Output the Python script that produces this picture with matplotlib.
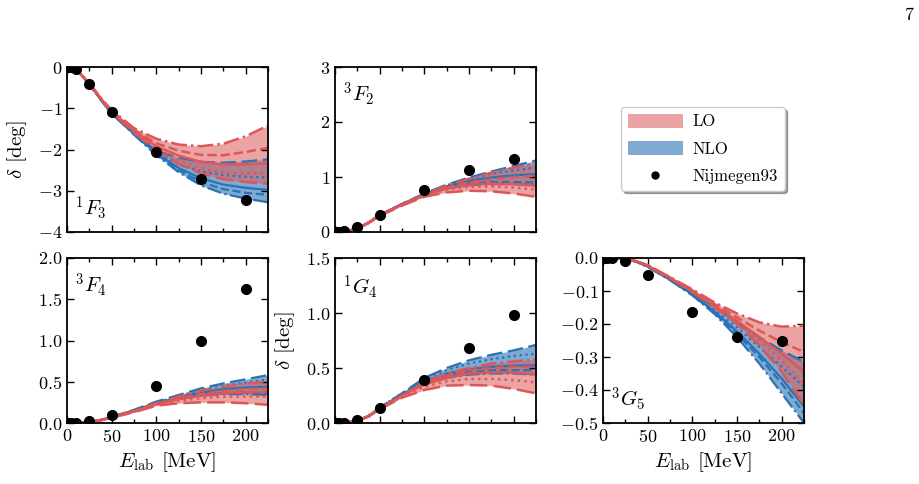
import matplotlib
matplotlib.use("Agg")
import matplotlib.pyplot as plt
from matplotlib.patches import Patch
from matplotlib.lines import Line2D
import matplotlib.ticker as mticker
import numpy as np

plt.rcParams['font.family'] = 'serif'
plt.rcParams['font.serif'] = ['cmr10']
plt.rcParams['mathtext.fontset'] = 'cm'
plt.rcParams['axes.formatter.use_mathtext'] = True

# ---------------- data ----------------
E = [0, 10, 25, 37.5, 50, 75, 100, 125, 150, 175, 200, 225]
E_nij = [1, 5, 10, 25, 50, 100, 150, 200]

# 1F3
F3_1_LO = [
    [0, -0.05, -0.39, -0.74, -1.05, -1.48, -1.74, -1.88, -1.92, -1.86, -1.68, -1.42],
    [0, -0.05, -0.40, -0.75, -1.07, -1.52, -1.85, -2.03, -2.13, -2.14, -2.06, -1.96],
    [0, -0.05, -0.40, -0.76, -1.08, -1.55, -1.92, -2.15, -2.30, -2.36, -2.36, -2.34],
    [0, -0.05, -0.40, -0.76, -1.09, -1.57, -1.97, -2.26, -2.46, -2.56, -2.58, -2.57],
    [0, -0.05, -0.41, -0.77, -1.10, -1.59, -2.02, -2.35, -2.58, -2.72, -2.79, -2.83],
]
F3_1_NLO = [
    [0, -0.05, -0.41, -0.78, -1.11, -1.60, -2.03, -2.20, -2.30, -2.32, -2.29, -2.24],
    [0, -0.05, -0.41, -0.78, -1.11, -1.61, -2.06, -2.36, -2.53, -2.62, -2.66, -2.68],
    [0, -0.05, -0.41, -0.78, -1.12, -1.62, -2.09, -2.45, -2.70, -2.85, -2.93, -2.98],
    [0, -0.05, -0.41, -0.78, -1.12, -1.63, -2.11, -2.50, -2.79, -2.96, -3.05, -3.10],
    [0, -0.05, -0.42, -0.79, -1.13, -1.64, -2.14, -2.55, -2.87, -3.07, -3.19, -3.28],
]
F3_1_NIJ = [0.0, -0.01, -0.04, -0.42, -1.09, -2.07, -2.71, -3.23]

# 3F2
F2_3_LO = [
    [0, 0.005, 0.06, 0.17, 0.30, 0.50, 0.68, 0.84, 0.97, 1.08, 1.17, 1.25],
    [0, 0.005, 0.06, 0.17, 0.30, 0.50, 0.68, 0.81, 0.90, 0.96, 1.00, 1.02],
    [0, 0.005, 0.06, 0.17, 0.30, 0.50, 0.67, 0.79, 0.86, 0.88, 0.87, 0.84],
    [0, 0.005, 0.06, 0.17, 0.30, 0.49, 0.66, 0.77, 0.82, 0.83, 0.81, 0.77],
    [0, 0.005, 0.06, 0.16, 0.29, 0.48, 0.64, 0.72, 0.75, 0.74, 0.70, 0.64],
]
F2_3_NLO = [
    [0, 0.005, 0.06, 0.17, 0.31, 0.51, 0.70, 0.86, 0.99, 1.10, 1.20, 1.30],
    [0, 0.005, 0.06, 0.17, 0.31, 0.51, 0.70, 0.85, 0.97, 1.06, 1.12, 1.17],
    [0, 0.005, 0.06, 0.17, 0.31, 0.51, 0.69, 0.83, 0.93, 0.99, 1.03, 1.05],
    [0, 0.005, 0.06, 0.17, 0.30, 0.50, 0.68, 0.81, 0.88, 0.91, 0.91, 0.90],
    [0, 0.005, 0.06, 0.17, 0.30, 0.50, 0.67, 0.79, 0.85, 0.87, 0.87, 0.85],
]
F2_3_NIJ = [0.0, 0.0, 0.01, 0.09, 0.30, 0.77, 1.13, 1.33]

# 3F4
F4_3_LO = [
    [0, 0.0, 0.01, 0.035, 0.07, 0.15, 0.24, 0.32, 0.39, 0.44, 0.48, 0.50],
    [0, 0.0, 0.01, 0.035, 0.07, 0.14, 0.23, 0.30, 0.35, 0.39, 0.41, 0.42],
    [0, 0.0, 0.01, 0.035, 0.07, 0.14, 0.23, 0.29, 0.33, 0.36, 0.37, 0.38],
    [0, 0.0, 0.01, 0.035, 0.07, 0.14, 0.22, 0.27, 0.30, 0.32, 0.32, 0.32],
    [0, 0.0, 0.01, 0.03, 0.065, 0.13, 0.21, 0.24, 0.25, 0.25, 0.24, 0.22],
]
F4_3_NLO = [
    [0, 0.0, 0.01, 0.035, 0.075, 0.16, 0.26, 0.34, 0.42, 0.48, 0.53, 0.58],
    [0, 0.0, 0.01, 0.035, 0.075, 0.155, 0.25, 0.33, 0.40, 0.45, 0.49, 0.53],
    [0, 0.0, 0.01, 0.035, 0.07, 0.15, 0.24, 0.31, 0.37, 0.41, 0.43, 0.44],
    [0, 0.0, 0.01, 0.035, 0.07, 0.15, 0.24, 0.30, 0.34, 0.36, 0.37, 0.36],
    [0, 0.0, 0.01, 0.035, 0.07, 0.15, 0.24, 0.29, 0.33, 0.35, 0.35, 0.34],
]
F4_3_NIJ = [0.0, 0.0, 0.0, 0.02, 0.10, 0.45, 0.99, 1.63]

# 1G4
G4_1_LO = [
    [0, 0.0, 0.02, 0.06, 0.13, 0.25, 0.37, 0.45, 0.50, 0.54, 0.56, 0.58],
    [0, 0.0, 0.02, 0.06, 0.13, 0.25, 0.36, 0.43, 0.48, 0.50, 0.51, 0.51],
    [0, 0.0, 0.02, 0.06, 0.13, 0.25, 0.35, 0.41, 0.45, 0.46, 0.46, 0.44],
    [0, 0.0, 0.02, 0.06, 0.13, 0.24, 0.33, 0.38, 0.40, 0.40, 0.39, 0.37],
    [0, 0.0, 0.02, 0.06, 0.125, 0.23, 0.30, 0.34, 0.345, 0.34, 0.31, 0.27],
]
G4_1_NLO = [
    [0, 0.0, 0.02, 0.065, 0.14, 0.27, 0.41, 0.50, 0.57, 0.62, 0.66, 0.71],
    [0, 0.0, 0.02, 0.065, 0.14, 0.27, 0.40, 0.48, 0.54, 0.58, 0.61, 0.63],
    [0, 0.0, 0.02, 0.065, 0.135, 0.26, 0.38, 0.45, 0.49, 0.51, 0.52, 0.525],
    [0, 0.0, 0.02, 0.06, 0.135, 0.26, 0.37, 0.43, 0.46, 0.48, 0.48, 0.48],
    [0, 0.0, 0.02, 0.06, 0.13, 0.255, 0.36, 0.41, 0.44, 0.45, 0.45, 0.44],
]
G4_1_NIJ = [0.0, 0.0, 0.0, 0.03, 0.14, 0.39, 0.68, 0.98]

# 3G5
G5_3_LO = [
    [0, 0.0, -0.002, -0.01, -0.022, -0.058, -0.095, -0.135, -0.168, -0.195, -0.208, -0.205],
    [0, 0.0, -0.002, -0.01, -0.022, -0.059, -0.098, -0.140, -0.180, -0.220, -0.255, -0.285],
    [0, 0.0, -0.002, -0.01, -0.023, -0.060, -0.100, -0.145, -0.190, -0.240, -0.290, -0.345],
    [0, 0.0, -0.002, -0.01, -0.023, -0.060, -0.101, -0.148, -0.196, -0.250, -0.310, -0.380],
    [0, 0.0, -0.002, -0.01, -0.024, -0.062, -0.103, -0.150, -0.200, -0.265, -0.345, -0.445],
]
G5_3_NLO = [
    [0, 0.0, -0.002, -0.011, -0.024, -0.063, -0.105, -0.150, -0.195, -0.240, -0.280, -0.315],
    [0, 0.0, -0.002, -0.011, -0.025, -0.064, -0.108, -0.158, -0.210, -0.270, -0.330, -0.390],
    [0, 0.0, -0.002, -0.011, -0.026, -0.066, -0.110, -0.163, -0.222, -0.290, -0.365, -0.450],
    [0, 0.0, -0.002, -0.012, -0.026, -0.066, -0.112, -0.167, -0.230, -0.300, -0.380, -0.470],
    [0, 0.0, -0.002, -0.012, -0.027, -0.067, -0.113, -0.170, -0.240, -0.320, -0.410, -0.500],
]
G5_3_NIJ = [0.0, 0.0, 0.0, -0.01, -0.05, -0.165, -0.24, -0.25]

LO_STYLES = ['-.', '--', '-', ':', (0, (7, 2.5))]
NLO_STYLES = [(0, (7, 2.5)), ':', '-', '--', '-.']

RED = '#dc5858'
BLUE = '#2a72b5'

W, H = 919, 484
fig = plt.figure(figsize=(W / 100, H / 100), dpi=100)


def make_ax(l, r, t, b):
    return fig.add_axes([l / W, 1 - b / H, (r - l) / W, (b - t) / H])


def draw(ax, lo, nlo, nij, label, lab_pos, ylim, yticks):
    lo = np.array(lo)
    nlo = np.array(nlo)
    ax.fill_between(E, nlo.min(axis=0), nlo.max(axis=0), color=BLUE, alpha=0.6, lw=0)
    for row, ls in zip(nlo, NLO_STYLES):
        ax.plot(E, row, color=BLUE, ls=ls, lw=1.6)
    ax.fill_between(E, lo.min(axis=0), lo.max(axis=0), color=RED, alpha=0.55, lw=0)
    for row, ls in zip(lo, LO_STYLES):
        ax.plot(E, row, color=RED, ls=ls, lw=1.8)
    ax.plot(E_nij, nij, 'o', color='black', ms=7, zorder=10)
    ax.set_xlim(0, 225)
    ax.set_ylim(*ylim)
    ax.set_yticks(yticks)
    ax.set_xticks([0, 50, 100, 150, 200])
    ax.set_xticks([25, 75, 125, 175, 225], minor=True)
    ax.tick_params(which='both', direction='in', top=True, right=True, labelsize=13)
    ax.tick_params(which='major', length=5, width=1)
    ax.tick_params(which='minor', length=3, width=1)
    for s in ax.spines.values():
        s.set_linewidth(1.3)
    ax.text(lab_pos[0], lab_pos[1], label, transform=ax.transAxes, fontsize=15)


ax1 = make_ax(67, 268, 67, 232)
draw(ax1, F3_1_LO, F3_1_NLO, F3_1_NIJ, r'$^1F_3$', (0.04, 0.10), (-4, 0), [-4, -3, -2, -1, 0])
ax1.set_xticklabels([])
ax1.set_ylabel(r'$\delta$ [deg]', fontsize=15, labelpad=6)

ax2 = make_ax(335, 536, 67, 232)
draw(ax2, F2_3_LO, F2_3_NLO, F2_3_NIJ, r'$^3F_2$', (0.04, 0.79), (0, 3), [0, 1, 2, 3])
ax2.set_xticklabels([])

ax4 = make_ax(67, 268, 258, 423)
draw(ax4, F4_3_LO, F4_3_NLO, F4_3_NIJ, r'$^3F_4$', (0.04, 0.79), (0, 2), [0, 0.5, 1.0, 1.5, 2.0])
ax4.set_xlabel(r'$E_{\mathrm{lab}}$ [MeV]', fontsize=15, labelpad=4)
ax4.yaxis.set_major_formatter(mticker.FormatStrFormatter(r'$%.1f$'))

ax5 = make_ax(335, 536, 258, 423)
draw(ax5, G4_1_LO, G4_1_NLO, G4_1_NIJ, r'$^1G_4$', (0.04, 0.78), (0, 1.5), [0, 0.5, 1.0, 1.5])
ax5.set_xticklabels([])
ax5.set_ylabel(r'$\delta$ [deg]', fontsize=15, labelpad=6)
ax5.yaxis.set_major_formatter(mticker.FormatStrFormatter(r'$%.1f$'))

ax6 = make_ax(603, 804, 258, 423)
draw(ax6, G5_3_LO, G5_3_NLO, G5_3_NIJ, r'$^3G_5$', (0.04, 0.10), (-0.5, 0), [-0.5, -0.4, -0.3, -0.2, -0.1, 0.0])
ax6.set_xlabel(r'$E_{\mathrm{lab}}$ [MeV]', fontsize=15, labelpad=4)
ax6.yaxis.set_major_formatter(mticker.FormatStrFormatter(r'$%.1f$'))

handles = [
    Patch(facecolor=RED, alpha=0.55, edgecolor='none', label='LO'),
    Patch(facecolor=BLUE, alpha=0.6, edgecolor='none', label='NLO'),
    Line2D([], [], ls='none', marker='o', color='black', ms=5, label='Nijmegen93'),
]
leg = fig.legend(handles=handles, loc='upper left', bbox_to_anchor=(621 / W, 1 - 107 / H),
                 borderaxespad=0,
                 fontsize=12, frameon=True, fancybox=True, shadow=True, framealpha=1,
                 edgecolor='#cccccc', handlelength=3.3, handleheight=0.9,
                 borderpad=0.4, labelspacing=0.7, handletextpad=0.6)

fig.text(909 / W, 1 - 15 / H, '7', fontsize=13, ha='center', va='center')

fig.savefig('out.png', dpi=100)
